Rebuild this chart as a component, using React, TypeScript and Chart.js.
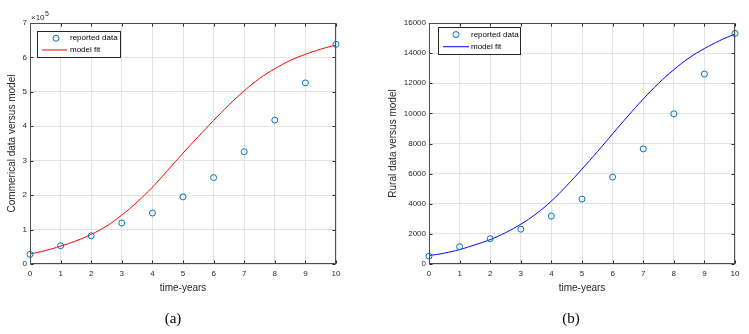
import React, { useEffect, useRef } from "react";
import { Chart, registerables } from "chart.js";

Chart.register(...registerables);

// ---------- data ----------
const years = [0, 1, 2, 3, 4, 5, 6, 7, 8, 9, 10];
const fitTimes = [0, 0.5, 1, 1.5, 2, 2.5, 3, 3.5, 4, 4.5, 5, 5.5, 6, 6.5, 7, 7.5, 8, 8.5, 9, 9.5, 10];

// commercial values in units of 10^5
const commercialReported = [0.28, 0.53, 0.82, 1.19, 1.48, 1.95, 2.51, 3.26, 4.18, 5.26, 6.38];
const commercialFit = [0.29, 0.39, 0.52, 0.67, 0.86, 1.1, 1.42, 1.8, 2.23, 2.72, 3.22, 3.7, 4.17, 4.62, 5.03, 5.39, 5.67, 5.91, 6.09, 6.24, 6.36];

const ruralReported = [520, 1150, 1680, 2310, 3180, 4310, 5770, 7640, 9970, 12610, 15310];
const ruralFit = [560, 720, 960, 1270, 1620, 2080, 2640, 3330, 4180, 5200, 6300, 7450, 8640, 9820, 10950, 11990, 12900, 13680, 14300, 14830, 15270];

const xTicks = [0, 1, 2, 3, 4, 5, 6, 7, 8, 9, 10];
const commercialTicks = [0, 1, 2, 3, 4, 5, 6, 7];
const ruralTicks = [0, 2000, 4000, 6000, 8000, 10000, 12000, 14000, 16000];

const legendLabels = ["reported data", "model fit"];

// ---------- style ----------
const FONT = "'Liberation Sans', Arial, sans-serif";
const AXIS = "#262626";
const GRID = "#e3e3e3";
const MARKER = "#0072BD";

const boxPlugin = {
  id: "matBox",
  afterDraw(chart: any) {
    const { ctx, chartArea: a, scales } = chart;
    const xs = scales.x;
    const ys = scales.y;
    ctx.save();
    ctx.strokeStyle = AXIS;
    ctx.lineWidth = 1;
    const L = Math.round(a.left) + 0.5;
    const R = Math.round(a.right) - 0.5;
    const T = Math.round(a.top) + 0.5;
    const B = Math.round(a.bottom) - 0.5;
    ctx.beginPath();
    xs.ticks.forEach((t: any) => {
      const px = Math.round(xs.getPixelForValue(t.value)) + 0.5;
      ctx.moveTo(px, B);
      ctx.lineTo(px, B - 3);
      ctx.moveTo(px, T);
      ctx.lineTo(px, T + 3);
    });
    ys.ticks.forEach((t: any) => {
      const py = Math.round(ys.getPixelForValue(t.value)) + 0.5;
      ctx.moveTo(L, py);
      ctx.lineTo(L + 3, py);
      ctx.moveTo(R, py);
      ctx.lineTo(R - 3, py);
    });
    ctx.stroke();
    ctx.strokeStyle = "#4d4d4d";
    ctx.strokeRect(L, T, R - L, B - T);
    ctx.restore();
  },
};

const legendPlugin = {
  id: "matLegend",
  afterDraw(chart: any, _args: any, opts: any) {
    if (!opts || !opts.show) return;
    const { ctx, chartArea: a } = chart;
    const x = a.left + opts.dx;
    const y = a.top + opts.dy;
    ctx.save();
    ctx.fillStyle = "#ffffff";
    ctx.fillRect(x, y, opts.w, opts.h);
    ctx.strokeStyle = "#262626";
    ctx.lineWidth = 1;
    ctx.strokeRect(Math.round(x) + 0.5, Math.round(y) + 0.5, opts.w, opts.h);
    const r1 = y + opts.h * 0.28;
    const r2 = y + opts.h * 0.73;
    // marker
    ctx.strokeStyle = MARKER;
    ctx.beginPath();
    ctx.arc(x + opts.markerX, r1, 3, 0, Math.PI * 2);
    ctx.stroke();
    // line
    ctx.strokeStyle = opts.lineColor;
    ctx.beginPath();
    ctx.moveTo(x + opts.lineX0, r2);
    ctx.lineTo(x + opts.lineX1, r2);
    ctx.stroke();
    ctx.fillStyle = "#000000";
    ctx.font = `8px ${FONT}`;
    ctx.textBaseline = "middle";
    ctx.textAlign = "left";
    ctx.fillText(legendLabels[0], x + opts.textX, r1);
    ctx.fillText(legendLabels[1], x + opts.textX, r2);
    ctx.restore();
  },
};

const exponentPlugin = {
  id: "matExponent",
  afterDraw(chart: any, _args: any, opts: any) {
    if (!opts || !opts.show) return;
    const { ctx, chartArea: a } = chart;
    ctx.save();
    ctx.fillStyle = AXIS;
    ctx.textAlign = "left";
    ctx.textBaseline = "alphabetic";
    ctx.font = `8px ${FONT}`;
    const base = "\u00d710";
    const x0 = a.left + 1;
    const y0 = a.top - 3;
    ctx.fillText(base, x0, y0);
    const w = ctx.measureText(base).width;
    ctx.font = `7px ${FONT}`;
    ctx.fillText(opts.exp, x0 + w + 0.5, y0 - 4);
    ctx.restore();
  },
};

function makeConfig(p: {
  reported: number[];
  fit: number[];
  yTicks: number[];
  yTitle: string;
  yWidth: number;
  yTitlePad: number;
  rightPad: number;
  lineColor: string;
  legend: any;
  exponent: any;
}) {
  const yMin = p.yTicks[0];
  const yMax = p.yTicks[p.yTicks.length - 1];
  return {
    type: "scatter" as const,
    data: {
      datasets: [
        {
          label: legendLabels[1],
          data: fitTimes.map((t, i) => ({ x: t, y: p.fit[i] })),
          showLine: true,
          borderColor: p.lineColor,
          borderWidth: 1,
          pointRadius: 0,
          tension: 0.4,
          fill: false,
          order: 2,
        },
        {
          label: legendLabels[0],
          data: years.map((t, i) => ({ x: t, y: p.reported[i] })),
          showLine: false,
          borderColor: MARKER,
          backgroundColor: "rgba(0,0,0,0)",
          borderWidth: 1,
          pointRadius: 3,
          pointHoverRadius: 3,
          pointStyle: "circle",
          order: 1,
        },
      ],
    },
    options: {
      responsive: false,
      animation: false as const,
      clip: false as any,
      layout: { padding: { top: 23, right: p.rightPad, bottom: 36, left: 0 } },
      plugins: {
        legend: { display: false },
        tooltip: { enabled: false },
        matLegend: p.legend,
        matExponent: p.exponent,
      },
      scales: {
        x: {
          type: "linear" as const,
          min: 0,
          max: 10,
          afterBuildTicks: (s: any) => {
            s.ticks = xTicks.map((v) => ({ value: v }));
          },
          afterFit: (s: any) => {
            s.height = 34;
            s.paddingLeft = 0;
            s.paddingRight = 0;
            s.paddingTop = 0;
            s.paddingBottom = 0;
          },
          grid: { color: GRID, lineWidth: 1, drawTicks: false },
          border: { display: false },
          ticks: {
            padding: 5,
            color: AXIS,
            font: { family: FONT, size: 8 },
            maxRotation: 0,
            autoSkip: false,
          },
          title: {
            display: true,
            text: "time-years",
            color: AXIS,
            font: { family: FONT, size: 10 },
            padding: { top: 0, bottom: 4 },
          },
        },
        y: {
          type: "linear" as const,
          min: yMin,
          max: yMax,
          afterBuildTicks: (s: any) => {
            s.ticks = p.yTicks.map((v) => ({ value: v }));
          },
          afterFit: (s: any) => {
            s.width = p.yWidth;
            s.paddingLeft = 0;
            s.paddingRight = 0;
            s.paddingTop = 0;
            s.paddingBottom = 0;
          },
          grid: { color: GRID, lineWidth: 1, drawTicks: false },
          border: { display: false },
          ticks: {
            padding: 3,
            color: AXIS,
            font: { family: FONT, size: 8 },
            autoSkip: false,
            callback: (v: any) => String(v),
          },
          title: {
            display: true,
            text: p.yTitle,
            color: AXIS,
            font: { family: FONT, size: 10 },
            padding: { top: p.yTitlePad, bottom: 0 },
          },
        },
      },
    },
    plugins: [boxPlugin, legendPlugin, exponentPlugin],
  };
}

function Panel(props: { width: number; height: number; left: number; config: any }) {
  const ref = useRef<HTMLCanvasElement | null>(null);
  useEffect(() => {
    if (!ref.current) return;
    const chart = new Chart(ref.current, props.config);
    return () => chart.destroy();
  }, []);
  return (
    <canvas
      ref={ref}
      width={props.width}
      height={props.height}
      style={{ position: "absolute", left: props.left, top: 0, width: props.width, height: props.height }}
    />
  );
}

const captionStyle: React.CSSProperties = {
  position: "absolute",
  top: 308,
  fontFamily: "'Liberation Serif', 'Times New Roman', serif",
  fontSize: 15,
  lineHeight: "20px",
  color: "#000",
  width: 40,
  textAlign: "center",
};

export default function App() {
  const cfgA = makeConfig({
    reported: commercialReported,
    fit: commercialFit,
    yTicks: commercialTicks,
    yTitle: "Commerical data versus model",
    yWidth: 30,
    yTitlePad: 6,
    rightPad: 34,
    lineColor: "#ff0000",
    legend: { show: true, dx: 7, dy: 8, w: 83, h: 26, markerX: 19, lineX0: 5, lineX1: 30, textX: 33, lineColor: "#ff0000" },
    exponent: { show: true, exp: "5" },
  });
  const cfgB = makeConfig({
    reported: ruralReported,
    fit: ruralFit,
    yTicks: ruralTicks,
    yTitle: "Rural data versus model",
    yWidth: 54,
    yTitlePad: 12,
    rightPad: 14,
    lineColor: "#0000ff",
    legend: { show: true, dx: 9, dy: 4, w: 82, h: 27, markerX: 18, lineX0: 5, lineX1: 31, textX: 33, lineColor: "#0000ff" },
    exponent: { show: false },
  });
  return (
    <div style={{ position: "fixed", left: 0, top: 0, width: 749, height: 334, background: "#fff", overflow: "hidden" }}>
      <Panel width={370} height={334} left={0} config={cfgA} />
      <Panel width={374} height={334} left={375} config={cfgB} />
      <div style={{ ...captionStyle, left: 153 }}>(a)</div>
      <div style={{ ...captionStyle, left: 551 }}>(b)</div>
    </div>
  );
}
